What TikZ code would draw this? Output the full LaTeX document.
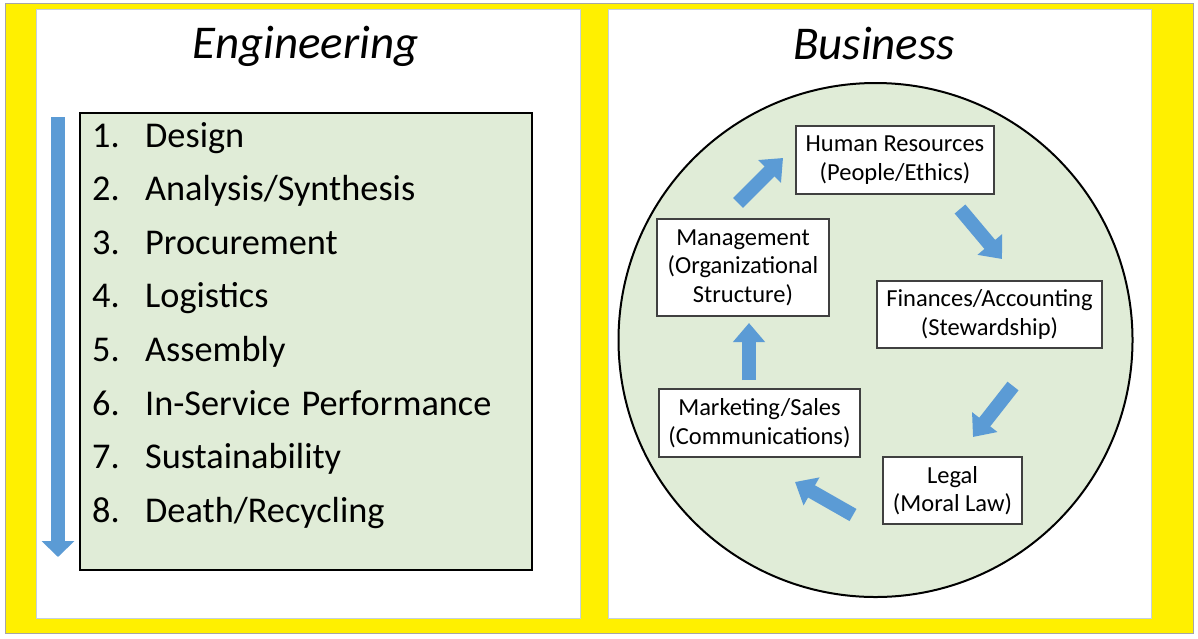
\documentclass[tikz,border=0pt]{standalone}
\usepackage{fontspec}
\setmainfont{Carlito}
\usetikzlibrary{arrows.meta}
\definecolor{yel}{RGB}{255,240,0}
\definecolor{blu}{RGB}{91,155,213}
\definecolor{grn}{RGB}{224,236,215}
\definecolor{pnl}{RGB}{196,208,224}
\begin{document}
\begin{tikzpicture}[x=1pt,y=-1pt,
  panel/.style={fill=white,draw=pnl,line width=1pt},
  titletext/.style={font=\fontsize{47}{56}\selectfont\itshape,anchor=base,inner sep=0pt},
  item/.style={font=\fontsize{36.3}{40}\selectfont,anchor=base west,inner sep=0pt},
  bbox/.style={draw=black!75,line width=1.3pt,fill=white,align=center,font=\fontsize{24.5}{28.5}\selectfont,inner sep=0pt},
  blockarrow/.style={draw=blu,line width=14pt,-{Triangle[width=31pt,length=19pt]}}]
\useasboundingbox (0,0) rectangle (1198,638);
\fill[white] (0,0) rectangle (1198,638);
\draw[fill=yel,draw=black!35,line width=1pt] (5,3) rectangle (1193,633);
\draw[panel] (36,9) rectangle (580,618);
\draw[panel] (608,9) rectangle (1151,618);
\node[titletext] (eng) at (305.5,58) {Engineering};
\node[titletext] (bus) at (874,59) {Business};
% list box
\node[draw=black,line width=2pt,fill=grn,minimum width=452pt,minimum height=457pt,inner sep=0pt] (list) at (306,341.5) {};
\node[item] (i1) at (92,147) {\makebox[53pt][l]{1.}Design};
\node[item] (i2) at (92,200.6) {\makebox[53pt][l]{2.}Analysis/Synthesis};
\node[item] (i3) at (92,254.2) {\makebox[53pt][l]{3.}Procurement};
\node[item] (i4) at (92,307.8) {\makebox[53pt][l]{4.}Logistics};
\node[item] (i5) at (92,361.4) {\makebox[53pt][l]{5.}Assembly};
\node[item] (i6) at (92,415) {\makebox[53pt][l]{6.}In-Service\hspace{3pt} Performance};
\node[item] (i7) at (92,468.6) {\makebox[53pt][l]{7.}Sustainability};
\node[item] (i8) at (92,522.2) {\makebox[53pt][l]{8.}Death/Recycling};
\coordinate (la1) at (58,117);
\coordinate (la2) at (58,557);
\draw[draw=blu,line width=14pt,-{Triangle[width=32pt,length=16pt]}] (la1) -- (la2);
% business circle
\node[circle,draw=black,line width=2pt,fill=grn,minimum size=514pt,inner sep=0pt] (circ) at (875.5,340) {};
\node[bbox,minimum width=198pt,minimum height=68pt] (hr) at (895,160) {Human Resources\\(People/Ethics)};
\node[bbox,minimum width=172pt,minimum height=97pt] (mg) at (743,267.5) {Management\\(Organizational\\Structure)};
\node[bbox,minimum width=225pt,minimum height=67pt] (fi) at (989.5,314.5) {Finances/Accounting\\(Stewardship)};
\node[bbox,minimum width=201pt,minimum height=68pt] (mk) at (759.5,423) {Marketing/Sales\\(Communications)};
\node[bbox,minimum width=139pt,minimum height=67pt] (lg) at (952.5,490.5) {Legal\\(Moral Law)};
% block arrows
\coordinate (a1s) at (738,203); \coordinate (a1e) at (783,158);
\coordinate (a2s) at (960,209); \coordinate (a2e) at (1002,259);
\coordinate (a3s) at (1013,386); \coordinate (a3e) at (973,437);
\coordinate (a4s) at (853,515); \coordinate (a4e) at (795,482);
\coordinate (a5s) at (749,380); \coordinate (a5e) at (749,323);
\draw[blockarrow] (a1s) -- (a1e);
\draw[blockarrow] (a2s) -- (a2e);
\draw[blockarrow] (a3s) -- (a3e);
\draw[blockarrow] (a4s) -- (a4e);
\draw[blockarrow] (a5s) -- (a5e);
\end{tikzpicture}
\end{document}
